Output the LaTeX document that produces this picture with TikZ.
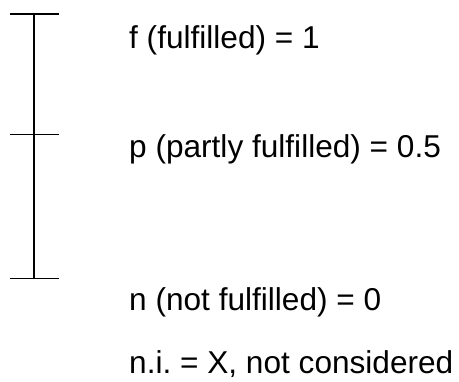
\documentclass[tikz,border=0pt]{standalone}
\usepackage{fontspec}
\setmainfont{Liberation Sans}
\frenchspacing
\begin{document}
\begin{tikzpicture}[x=1pt,y=-1pt,
  scaleline/.style={line width=1.6pt,black},
  lbl/.style={anchor=base west,inner sep=0pt,font=\fontsize{31.6}{37}\selectfont}]
\useasboundingbox (0,0) rectangle (459,382);
\coordinate (top) at (34,14);
\coordinate (mid) at (34,134.5);
\coordinate (bot) at (34,278.7);
\coordinate (topL) at (10,14);
\coordinate (topR) at (59,14);
\coordinate (midL) at (10,134.5);
\coordinate (midR) at (59,134.5);
\coordinate (botL) at (10,278.7);
\coordinate (botR) at (59,278.7);
\draw[scaleline] (top) -- (bot);
\draw[scaleline] (topL) -- (topR);
\draw[scaleline] (midL) -- (midR);
\draw[scaleline] (botL) -- (botR);
\node[lbl] (f) at (129,49) {f (fulfilled) = 1};
\node[lbl] (p) at (129,158) {p (partly fulfilled) = 0.5};
\node[lbl] (n) at (129,311) {n (not fulfilled) = 0};
\node[lbl] (ni) at (129,374) {n.i.\ = X, not considered};
\end{tikzpicture}
\end{document}
